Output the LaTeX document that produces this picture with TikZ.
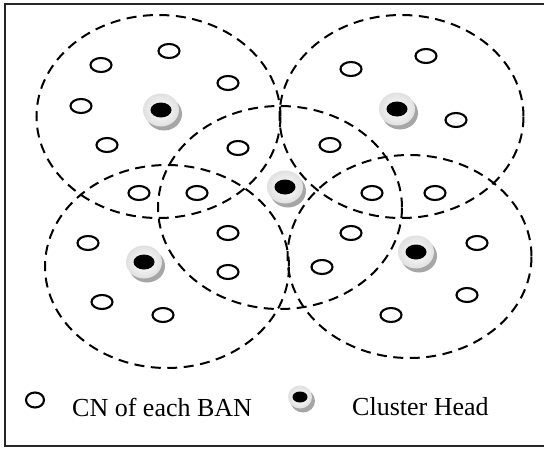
\documentclass[tikz,border=0pt]{standalone}
\usepackage{fontspec}
\setmainfont{Liberation Serif}
\usetikzlibrary{shapes.geometric,shadows}
\tikzset{
  region/.style={draw, ellipse, dash pattern=on 10pt off 6.5pt, line width=2pt,
    minimum width=244pt, minimum height=203pt, inner sep=0pt},
  cn/.style={draw, ellipse, line width=2.1pt, fill=white,
    minimum width=21pt, minimum height=14pt, inner sep=0pt},
  chdisk/.style={ellipse, inner sep=0pt, minimum width=36pt, minimum height=33pt,
    inner color=white, outer color=black!12,
    drop shadow={shadow xshift=3pt, shadow yshift=-4pt, fill=black!35, opacity=1}},
  chdot/.style={ellipse, fill=black, inner sep=0pt, minimum width=21pt, minimum height=15pt},
  chdisks/.style={chdisk, minimum width=24pt, minimum height=23pt,
    drop shadow={shadow xshift=2pt, shadow yshift=-3pt, fill=black!35, opacity=1}},
  chdots/.style={chdot, minimum width=15pt, minimum height=11pt},
  lab/.style={font=\fontsize{26}{30}\selectfont, anchor=west, inner sep=0pt}
}
\begin{document}
\begin{tikzpicture}[x=1pt,y=-1pt]
\useasboundingbox (0,0) rectangle (544,450);
\fill[white] (0,0) rectangle (544,450);
\draw[line width=1.8pt, black!85] (550,4) -- (5,4) -- (5,446) -- (550,446);
% regions
\node[region] (rTL) at (158.5,116.5) {};
\node[region] (rTR) at (401.5,116.5) {};
\node[region] (rM)  at (280,207.5) {};
\node[region] (rBL) at (167,266.5) {};
\node[region] (rBR) at (409.5,256.5) {};
% CNs
\node[cn] (c1)  at (169,51) {};
\node[cn] (c2)  at (101,65) {};
\node[cn] (c3)  at (228,83) {};
\node[cn] (c4)  at (81,106) {};
\node[cn] (c5)  at (107,145) {};
\node[cn] (c6)  at (238,148) {};
\node[cn] (c7)  at (139,193) {};
\node[cn] (c8)  at (197,193) {};
\node[cn] (c9)  at (351,69) {};
\node[cn] (c10) at (426,56) {};
\node[cn] (c11) at (456,120) {};
\node[cn] (c12) at (330,145) {};
\node[cn] (c13) at (372,193) {};
\node[cn] (c14) at (435,193) {};
\node[cn] (c15) at (228,233) {};
\node[cn] (c16) at (88,243) {};
\node[cn] (c17) at (228,272) {};
\node[cn] (c18) at (102,302) {};
\node[cn] (c19) at (163,315) {};
\node[cn] (c20) at (351,233) {};
\node[cn] (c21) at (477,243) {};
\node[cn] (c22) at (322,267) {};
\node[cn] (c23) at (467,295) {};
\node[cn] (c24) at (391,315) {};
% cluster heads
\node[chdisk] (hTL) at (161,110) {};
\node[chdot]  (dTL) at (hTL) {};
\node[chdisk] (hTR) at (397,109) {};
\node[chdot]  (dTR) at (hTR) {};
\node[chdisk] (hM)  at (285,187) {};
\node[chdot]  (dM)  at (hM) {};
\node[chdisk] (hBL) at (144,262) {};
\node[chdot]  (dBL) at (hBL) {};
\node[chdisk] (hBR) at (416,252) {};
\node[chdot]  (dBR) at (hBR) {};
% legend
\node[cn, minimum width=18pt, minimum height=15pt] (lcn) at (35,400) {};
\node[lab] (tcn) at (72,407) {CN of each BAN};
\node[chdisks] (lch) at (300,397) {};
\node[chdots]  (lchd) at (lch) {};
\node[lab] (tch) at (352,407) {Cluster Head};
\end{tikzpicture}
\end{document}
